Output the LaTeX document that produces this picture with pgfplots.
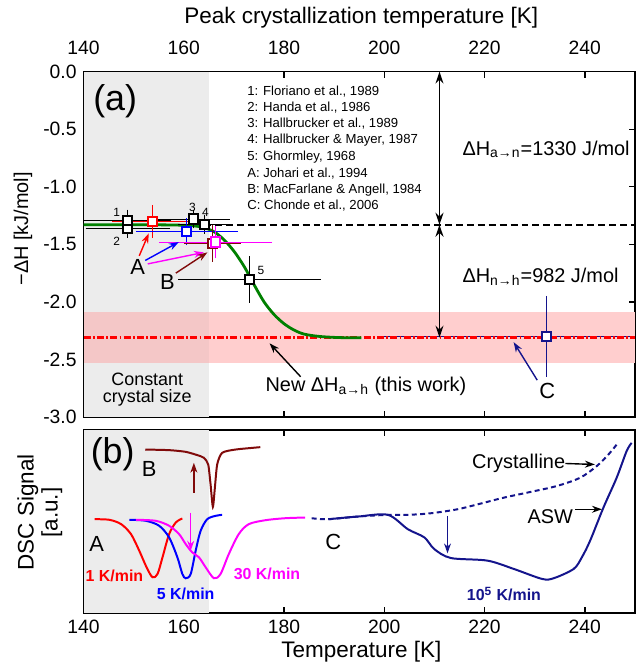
\documentclass[border=0pt]{standalone}
\usepackage{fontspec}
\setmainfont{Liberation Sans}
\usepackage{pgfplots}
\pgfplotsset{compat=1.18}
\usetikzlibrary{arrows.meta}

\definecolor{cred}{RGB}{255,0,0}
\definecolor{cblue}{RGB}{0,0,255}
\definecolor{cmag}{RGB}{255,0,255}
\definecolor{cbrown}{RGB}{128,10,10}
\definecolor{cnavy}{RGB}{20,20,140}
\definecolor{cgreen}{RGB}{0,128,0}
\definecolor{bgray}{RGB}{236,236,236}
\definecolor{bpink}{RGB}{255,206,206}
\definecolor{bpinkg}{RGB}{244,199,199}

\newcommand{\tickfont}{\fontsize{9.7}{11}\selectfont}
\newcommand{\labfont}{\fontsize{11.3}{13}\selectfont}
\newcommand{\reffont}{\fontsize{6.6}{8}\selectfont}
\newcommand{\annfont}{\fontsize{10}{12}\selectfont}
\newcommand{\bigfont}{\fontsize{18}{20}\selectfont}
\newcommand{\letfont}{\fontsize{11}{13}\selectfont}
\newcommand{\numfont}{\fontsize{6}{7}\selectfont}
\newcommand{\ratefont}{\fontsize{8}{9}\selectfont\bfseries}

\pgfplotsset{
  pt/.style={only marks, mark=square*, mark size=2.3pt,
    mark options={fill=white, draw=#1, line width=1pt, solid},
    error bars/x dir=both, error bars/x explicit,
    error bars/y dir=both, error bars/y explicit,
    error bars/error bar style={#1, line width=0.5pt},
    error bars/error mark options={#1, line width=0.5pt, mark size=3pt}},
}
\tikzset{arr/.style={-{Stealth[length=5pt,width=3.5pt]}, line width=0.7pt}}

\begin{document}
\begin{tikzpicture}
%% (a) enthalpy vs peak crystallization temperature
\begin{axis}[
  name=top, at={(0,0)}, anchor=south west,
  scale only axis, width=277pt, height=173.5pt,
  xmin=140, xmax=250, ymin=-3, ymax=0,
  xtick={140,160,180,200,220,240},
  xticklabels={140,160,180,200,220,240},
  ytick={-3,-2.5,-2,-1.5,-1,-0.5,0},
  yticklabels={-3.0,-2.5,-2.0,-1.5,-1.0,-0.5,0.0},
  xtick pos=both, ytick pos=both, xticklabel pos=upper, yticklabel pos=left,
  tick align=inside, major tick length=3pt,
  tick style={black, line width=0.7pt},
  ticklabel style={font=\tickfont},
  xticklabel style={yshift=5pt},
  axis line style={black, line width=0.75pt},
  clip=false,
]
  %% backgrounds
  \addplot[draw=none, fill=bgray] coordinates {(140,0)(165,0)(165,-3)(140,-3)} -- cycle;
  \addplot[draw=none, fill=bpink] coordinates {(165,-2.085)(250,-2.085)(250,-2.535)(165,-2.535)} -- cycle;
  \addplot[draw=none, fill=bpinkg] coordinates {(140,-2.085)(165,-2.085)(165,-2.535)(140,-2.535)} -- cycle;
  %% reference levels
  \addplot[black, line width=1pt, dash pattern=on 3.5pt off 2pt] coordinates {(140,-1.33)(250,-1.33)};
  %% C error bars under the dash-dot line
  \addplot[pt=cnavy] coordinates {(232.3,-2.30) += (16,0.3) -= (32.2,0.3)};
  \addplot[cred, line width=1.1pt, dash pattern=on 3.5pt off 1.2pt on 0.8pt off 1.2pt] coordinates {(140,-2.31)(250,-2.31)};
  \addplot[only marks, mark=square*, mark size=2.3pt, mark options={fill=white, draw=cnavy, line width=1pt}] coordinates {(232.3,-2.30)};
  %% new curve
  \addplot[cgreen, line width=1.4pt, smooth] coordinates {
    (140,-1.33)(150,-1.33)(158,-1.332)(162,-1.34)(164,-1.355)(166,-1.39)
    (168,-1.46)(170,-1.56)(172,-1.69)(174,-1.85)(176,-2.0)(178,-2.11)
    (180,-2.19)(182,-2.245)(184,-2.28)(187,-2.30)(191,-2.31)(195.4,-2.312)
  };
  %% literature points
  \addplot[pt=black] coordinates {(148.8,-1.36) +- (7.2,0.03)};
  \addplot[pt=black] coordinates {(148.8,-1.29) +- (7.5,0.04)};
  \addplot[pt=cred] coordinates {(153.7,-1.30) +- (6.8,0.09)};
  \addplot[pt=black] coordinates {(162.0,-1.28) +- (6,0.03)};
  \addplot[pt=black] coordinates {(164.1,-1.325) +- (4,0.03)};
  \addplot[pt=cblue] coordinates {(160.6,-1.39) +- (9,0.065)};
  \addplot[pt=cbrown] coordinates {(165.7,-1.49) +- (4.5,0.11)};
  \addplot[pt=cmag] coordinates {(166.3,-1.48) +- (10.1,0.09)};
  \addplot[pt=black] coordinates {(173.1,-1.807) +- (13,0.15)};
  %% labels and arrows
  \node[font=\bigfont] at (axis cs:146.3,-0.26) {(a)};
  \node[font=\numfont] at (axis cs:146.6,-1.22) {1};
  \node[font=\numfont] at (axis cs:146.6,-1.47) {2};
  \node[font=\numfont] at (axis cs:161.7,-1.18) {3};
  \node[font=\numfont] at (axis cs:164.3,-1.22) {4};
  \node[font=\numfont] at (axis cs:175.4,-1.73) {5};
  \node[font=\letfont] at (axis cs:150.8,-1.70) {A};
  \node[font=\letfont] at (axis cs:156.7,-1.83) {B};
  \draw[arr, cred] (axis cs:151.1,-1.60) -- (axis cs:153.0,-1.405);
  \draw[arr, cblue] (axis cs:152.3,-1.64) -- (axis cs:159.0,-1.48);
  \draw[arr, cmag] (axis cs:152.8,-1.67) -- (axis cs:164.0,-1.57);
  \draw[arr, cbrown] (axis cs:158.4,-1.75) -- (axis cs:164.7,-1.57);
  \node[font=\letfont] at (axis cs:232.5,-2.77) {C};
  \draw[arr, cnavy] (axis cs:230.5,-2.68) -- (axis cs:225.8,-2.35);
  \node[font=\reffont, anchor=west] at (axis cs:171.25,-0.170) {1: Floriano et al., 1989};
  \node[font=\reffont, anchor=west] at (axis cs:171.25,-0.309) {2: Handa et al., 1986};
  \node[font=\reffont, anchor=west] at (axis cs:171.25,-0.453) {3: Hallbrucker et al., 1989};
  \node[font=\reffont, anchor=west] at (axis cs:171.25,-0.597) {4: Hallbrucker \& Mayer, 1987};
  \node[font=\reffont, anchor=west] at (axis cs:171.25,-0.742) {5: Ghormley, 1968};
  \node[font=\reffont, anchor=west] at (axis cs:171.25,-0.885) {A: Johari et al., 1994};
  \node[font=\reffont, anchor=west] at (axis cs:171.25,-1.030) {B: MacFarlane \& Angell, 1984};
  \node[font=\reffont, anchor=west] at (axis cs:171.25,-1.166) {C: Chonde et al., 2006};
  \draw[{Stealth[length=6pt,width=4pt]}-{Stealth[length=6pt,width=4pt]}, line width=0.8pt]
    (axis cs:211,0) -- (axis cs:211,-1.33);
  \draw[{Stealth[length=6pt,width=4pt]}-{Stealth[length=6pt,width=4pt]}, line width=0.8pt]
    (axis cs:211,-1.33) -- (axis cs:211,-2.31);
  \node[font=\annfont, anchor=west] at (axis cs:214.2,-0.675) {ΔH\textsubscript{a→n}=1330 J/mol};
  \node[font=\annfont, anchor=west] at (axis cs:214.2,-1.78) {ΔH\textsubscript{n→h}=982 J/mol};
  \node[font=\annfont, anchor=west] at (axis cs:174.9,-2.73) {New ΔH\textsubscript{a→h} (this work)};
  \draw[arr, black] (axis cs:183.3,-2.65) -- (axis cs:177.1,-2.36);
  \node[font=\fontsize{9}{10}\selectfont] at (axis cs:152.7,-2.675) {Constant};
  \node[font=\fontsize{9}{10}\selectfont] at (axis cs:152.7,-2.83) {crystal size};
\end{axis}

%% (b) DSC traces
\begin{axis}[
  name=bot, at={(0,-6.5pt)}, anchor=north west,
  scale only axis, width=277pt, height=92pt,
  xmin=140, xmax=250, ymin=0, ymax=184,
  xtick={140,160,180,200,220,240},
  xticklabels={140,160,180,200,220,240},
  ytick=\empty,
  xtick pos=both, xticklabel pos=lower,
  tick align=inside, major tick length=3pt,
  tick style={black, line width=0.7pt},
  ticklabel style={font=\tickfont},
  axis line style={black, line width=0.75pt},
  clip=false,
]
  \addplot[draw=none, fill=bgray] coordinates {(140,0)(165,0)(165,184)(140,184)} -- cycle;
  %% A: 1 K/min
  \addplot[cred, line width=1pt, smooth] coordinates {
    (142.18,94.3)(145.16,93.7)(147.5,89.3)(149.46,79.3)(151.1,62.7)(152.56,46)
    (153.75,36)(154.75,39.3)(155.74,56)(157.06,79.3)(158.39,91)(159.7,95)
  };
  %% A: 5 K/min
  \addplot[cblue, line width=1pt, smooth] coordinates {
    (149.13,93.7)(152.44,92.7)(155.08,87.7)(157.06,76)(158.71,56)(159.70,39.3)
    (160.37,35)(161.37,39.3)(162.36,62.7)(163.35,82.7)(164.66,94.3)(166.33,97.7)(167.64,98.7)
  };
  %% A: 30 K/min
  \addplot[cmag, line width=1pt, smooth] coordinates {
    (150.45,93.7)(154.4,92.7)(157.06,87.7)(159.05,79.3)(160.37,69.3)(161.67,61)
    (163.02,56)(164.35,46)(166.0,35)(167.32,39.3)(168.97,59.3)(170.95,79.3)
    (172.94,89.3)(176.25,93.3)(180.22,95.3)(184.19,96)
  };
  %% B
  \addplot[cbrown, line width=1pt, smooth, tension=0.4] coordinates {
    (152.3,164.3)(157.06,163.7)(160.37,162)(162.68,158.7)(164.0,156)(164.86,149.3)
    (165.33,129.3)(165.79,106.7)(166.19,126)(166.65,149.3)(167.64,161)(170.29,164.3)(175.25,166.7)
  };
  %% C: crystalline (dotted) and ASW
  \addplot[cnavy, line width=1pt, dash pattern=on 2.5pt off 1.7pt, smooth] coordinates {
    (185.5,95.3)(188.8,94.3)(194.76,97)(200.71,98.7)(204.68,98.7)(209.3,100.3)
    (214.6,104.3)(219.2,110)(223.86,116)(229.15,121.7)(234.44,127.7)(239.07,136)
    (242.38,147.7)(244.7,159.3)(246.35,169.3)
  };
  \addplot[cnavy, line width=1pt, smooth, tension=0.5] coordinates {
    (188.81,94.3)(194.76,97)(200.71,98.7)(204.68,84.3)(207.98,76)(209.96,64.3)
    (213.27,55.3)(220.56,52.7)(225.85,44.3)(231.47,34.3)(233.78,35)(237.76,44.3)
    (239.4,56)(241.05,72.7)(243.71,106)(246.35,136)(248.33,162.7)(249.33,171)
  };
  \draw[arr, cbrown] (axis cs:162.0,121) -- (axis cs:162.0,151);
  \draw[arr, cmag] (axis cs:161.37,101) -- (axis cs:161.37,62.7);
  \draw[arr, cnavy] (axis cs:212.6,97.7) -- (axis cs:212.6,60);
  \draw[arr, black] (axis cs:236.1,150.3) -- (axis cs:242.0,149.3);
  \draw[arr, black] (axis cs:238.1,104.3) -- (axis cs:243.4,104.3);
  \node[font=\bigfont] at (axis cs:145.8,159.3) {(b)};
  \node[font=\letfont] at (axis cs:153.1,145) {B};
  \node[font=\letfont] at (axis cs:142.6,69.3) {A};
  \node[font=\letfont] at (axis cs:189.8,71) {C};
  \node[font=\ratefont, text=cred] at (axis cs:146.15,37.7) {1 K/min};
  \node[font=\ratefont, text=cblue] at (axis cs:160.37,19.3) {5 K/min};
  \node[font=\ratefont, text=cmag] at (axis cs:176.6,39.3) {30 K/min};
  \node[font=\ratefont, text=cnavy] at (axis cs:223.86,19.3) {10\textsuperscript{5} K/min};
  \node[font=\annfont] at (axis cs:226.8,150.3) {Crystalline};
  \node[font=\annfont] at (axis cs:233.1,96.7) {ASW};
\end{axis}

\node[font=\labfont] at (139.5pt,200.5pt) {Peak crystallization temperature [K]};
\node[font=\annfont, rotate=90] at (-30.5pt,94.5pt) {−ΔH [kJ/mol]};
\node[font=\labfont] at (139.5pt,-118pt) {Temperature [K]};
\node[font=\labfont, rotate=90] at (-28pt,-48pt) {DSC Signal};
\node[font=\labfont, rotate=90] at (-16pt,-48pt) {[a.u.]};
\path (-42pt,-125pt) rectangle (277.5pt,209.5pt);
\end{tikzpicture}
\end{document}
